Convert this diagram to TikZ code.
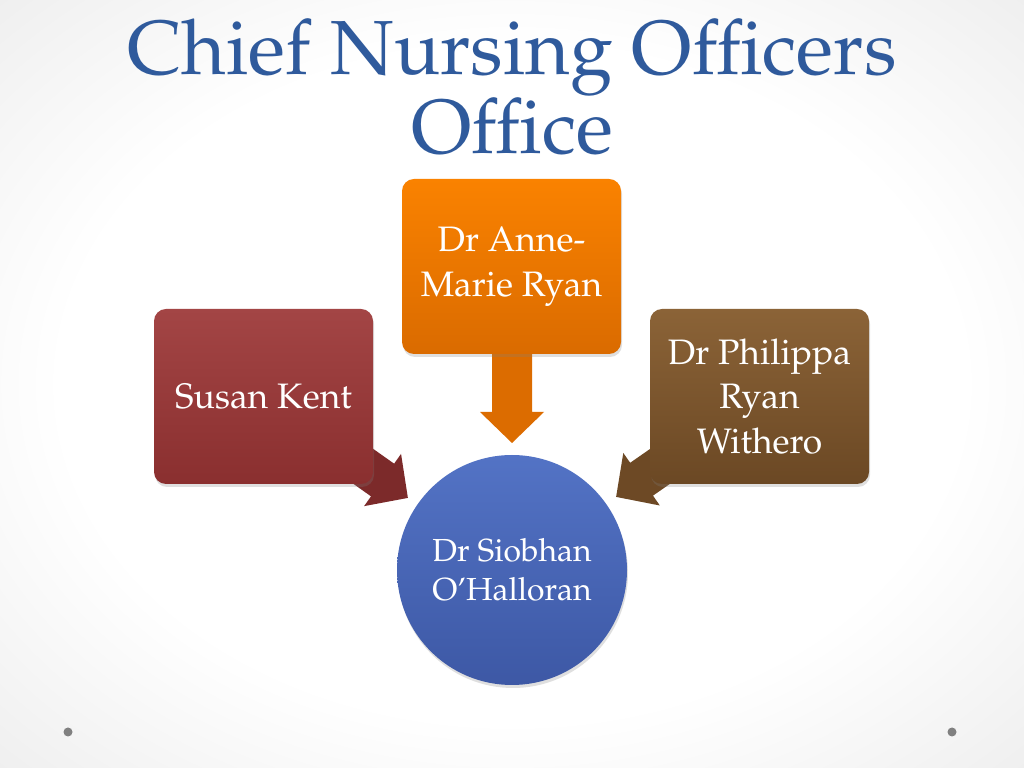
\documentclass[tikz,border=0pt]{standalone}
\usepackage[T1]{fontenc}
\usepackage{mathpazo}
\usetikzlibrary{calc,shadows}
\definecolor{titleblue}{HTML}{2F5A9C}
\definecolor{orangetop}{HTML}{FA8200}
\definecolor{orangebot}{HTML}{DA6B00}
\definecolor{redtop}{HTML}{A34545}
\definecolor{redbot}{HTML}{8A2F2F}
\definecolor{browntop}{HTML}{8B6337}
\definecolor{brownbot}{HTML}{6B4824}
\definecolor{bluetop}{HTML}{5373C5}
\definecolor{bluebot}{HTML}{3D58A5}
\pgfdeclareradialshading{slidebg}{\pgfpoint{0bp}{0bp}}{color(0bp)=(white); color(22bp)=(white); color(50bp)=(black!13)}
\tikzset{
  box/.style={rounded corners=12bp,minimum width=219bp,minimum height=175bp,align=center,text=white,
    font=\fontsize{35.5}{45}\selectfont,drop shadow={opacity=0.25,shadow xshift=1bp,shadow yshift=-3bp}},
  ball/.style={circle,minimum size=230bp,align=center,text=white,font=\fontsize{32}{39}\selectfont,
    drop shadow={opacity=0.25,shadow xshift=1bp,shadow yshift=-3bp}},
}
\newcommand\blockarrow[3]{%
  \fill[#3] let \p1=($(#2)-(#1)$), \n1={atan2(\y1,\x1)}, \n2={veclen(\x1,\y1)} in
    [shift={(#1)},rotate=\n1] (0,20bp) -- (\n2-31bp,20bp) -- (\n2-31bp,32bp) -- (\n2,0)
    -- (\n2-31bp,-32bp) -- (\n2-31bp,-20bp) -- (0,-20bp) -- cycle;}
\begin{document}
\begin{tikzpicture}[line join=bevel]
%%
\shade[shading=slidebg] (0,0) rectangle (1024bp,768bp);
\fill[black!50] (68bp,36bp) circle (4.5bp);
\fill[black!50] (952bp,36bp) circle (4.5bp);
%
\node (title) at (512bp,681bp) [align=center,text=titleblue,font=\fontsize{77}{80}\selectfont] {Chief Nursing Officers\\Office};
%
\coordinate (tail_0) at (512bp,414bp);
\coordinate (tip_0) at (512bp,325bp);
\coordinate (tail_1) at (326bp,328bp);
\coordinate (tip_1) at (408bp,270bp);
\coordinate (tail_2) at (698bp,328bp);
\coordinate (tip_2) at (616bp,271bp);
\blockarrow{tail_0}{tip_0}{orangebot!95!orangetop}
\blockarrow{tail_1}{tip_1}{redbot!90!black}
\blockarrow{tail_2}{tip_2}{brownbot!95!browntop}
%
\node (node_0) at (511.5bp,501.5bp) [box,top color=orangetop,bottom color=orangebot] {Dr Anne-\\Marie Ryan};
\node (node_1) at (263.5bp,371.5bp) [box,top color=redtop,bottom color=redbot] {Susan Kent};
\node (node_2) at (759.5bp,371.5bp) [box,top color=browntop,bottom color=brownbot] {Dr Philippa\\Ryan\\Withero};
\node (node_3) at (512bp,198bp) [ball,top color=bluetop,bottom color=bluebot] {Dr Siobhan\\O'Halloran};
%
\end{tikzpicture}
\end{document}
